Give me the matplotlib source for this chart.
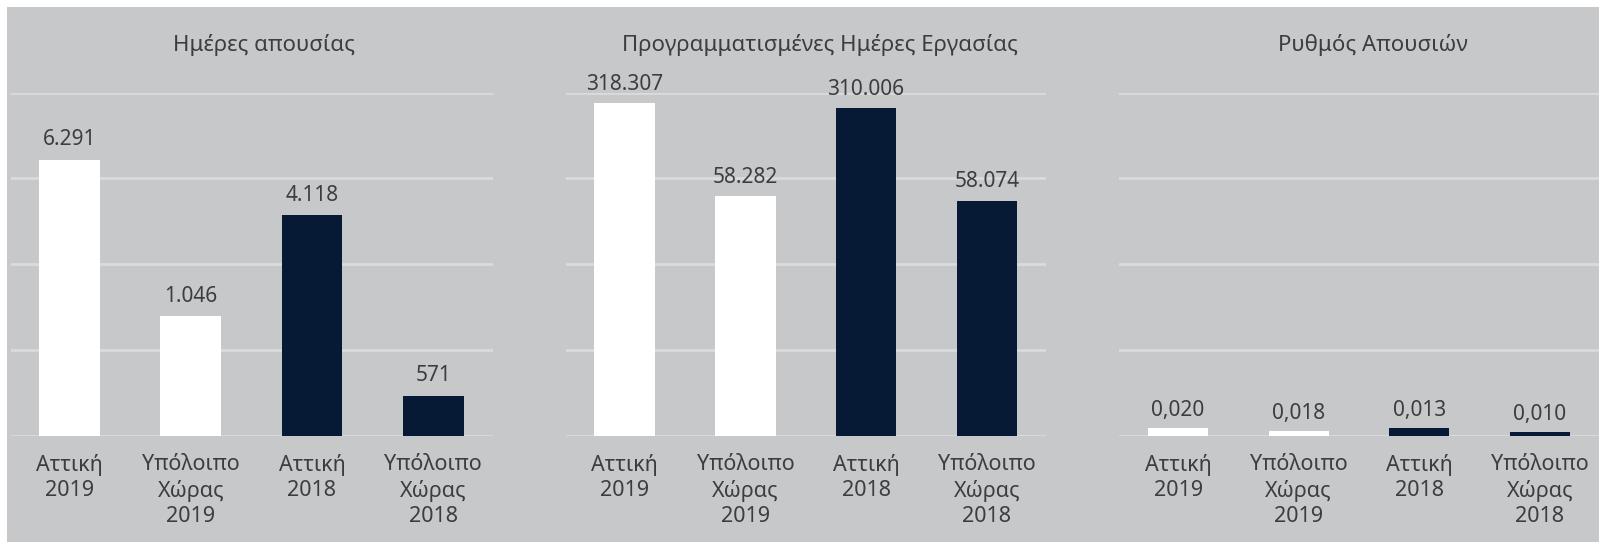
import matplotlib
matplotlib.use("Agg")
import matplotlib.pyplot as plt
from matplotlib.patches import Rectangle

plt.rcParams['font.family'] = ['Noto Sans', 'DejaVu Sans']

# ---- data ----
categories = ["Αττική\n2019", "Υπόλοιπο\nΧώρας\n2019", "Αττική\n2018", "Υπόλοιπο\nΧώρας\n2018"]
titles = ["Ημέρες απουσίας", "Προγραμματισμένες Ημέρες Εργασίας", "Ρυθμός Απουσιών"]

absence_labels = ["6.291", "1.046", "4.118", "571"]
absence_heights = [3.22, 1.39, 2.57, 0.46]

workdays_labels = ["318.307", "58.282", "310.006", "58.074"]
workdays_heights = [3.88, 2.79, 3.82, 2.74]

rate_labels = ["0,020", "0,018", "0,013", "0,010"]
rate_heights = [0.088, 0.053, 0.088, 0.041]

bar_colors = ["#ffffff", "#ffffff", "#061a36", "#061a36"]

# ---- style ----
BG = "#c7c8ca"
GRID = "#dadbdd"
TXT = "#3d3d3f"
W, H = 1599, 542

fig = plt.figure(figsize=(W / 100, H / 100), dpi=100)
fig.patch.set_facecolor("white")
fig.patches.append(Rectangle((7 / W, 0), 1, 1 - 7 / H, transform=fig.transFigure,
                             facecolor=BG, edgecolor="none", zorder=-10))

panels = [
    (absence_heights, absence_labels, 11.4, 492.6, (-0.48, 3.49), 264, 7),
    (workdays_heights, workdays_labels, 566, 1046, (-0.486, 3.49), 820, 6),
    (rate_heights, rate_labels, 1119, 1599, (-0.49, 3.49), 1373, 5),
]

bottom_px, top_px = 435.5, 92.7
for (heights, labels, x0, x1, xlim, tx, off), title in zip(panels, titles):
    ax = fig.add_axes([x0 / W, (H - bottom_px) / H, (x1 - x0) / W, (bottom_px - top_px) / H])
    ax.set_facecolor("none")
    x = range(len(categories))
    bars = ax.bar(x, heights, width=0.5, color=bar_colors, zorder=3)
    ax.set_xlim(*xlim)
    ax.set_ylim(0, 4)
    ax.set_yticks([0, 1, 2, 3, 4])
    ax.yaxis.grid(True, color=GRID, linewidth=2, zorder=0)
    ax.tick_params(axis='y', left=False, labelleft=False)
    ax.set_xticks(list(x))
    ax.set_xticklabels(categories, fontsize=15.5, color=TXT, linespacing=1.25)
    ax.tick_params(axis='x', bottom=False, pad=10)
    for s in ax.spines.values():
        s.set_visible(False)
    for b, lab in zip(bars, labels):
        ax.annotate(lab, (b.get_x() + b.get_width() / 2, b.get_height()),
                    xytext=(0, off), textcoords="offset points", ha="center", va="bottom",
                    fontsize=15, color=TXT, annotation_clip=False, zorder=4)
    fig.text(tx / W, 1 - 45 / H, title, ha="center", va="center", fontsize=16, color=TXT)

fig.savefig("out.png", dpi=100, facecolor=fig.get_facecolor())
